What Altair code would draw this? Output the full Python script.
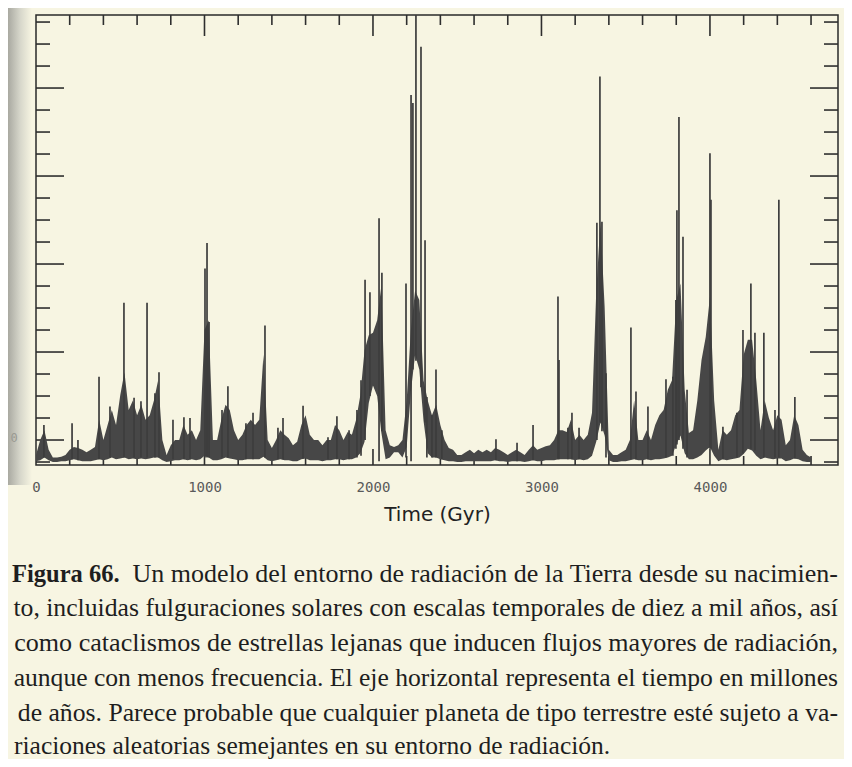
import altair as alt
import pandas as pd

# ---------------- data ----------------
# time grid (Myr) of the dense radiation band
time_myr = list(range(0, 4601, 25))

# upper edge of the dense band (arbitrary radiation units, major tick = 1)
band_high = [
    -0.17, 0.0, 0.11, -0.11, -0.2, -0.2, -0.19, -0.17, -0.11, -0.08,
    -0.09, -0.11, -0.14, -0.11, -0.08, 0.23, 0.0, 0.17, 0.34, 0.17,
    0.51, 0.77, 0.34, 0.45, 0.28, 0.40, 0.23, 0.28, 0.45, 0.68,
    0.0, -0.17, -0.06, 0.0, 0.0, 0.17, 0.06, 0.11, 0.0, 0.11,
    1.25, 1.36, 0.0, 0.0, 0.23, 0.40, 0.34, 0.11, 0.0, 0.06,
    0.17, 0.23, 0.17, 0.23, 0.97, 0.0, -0.09, 0.0, 0.11, 0.06,
    0.02, -0.06, -0.02, 0.17, 0.28, 0.06, 0.0, 0.0, -0.06, 0.0,
    0.0, 0.17, 0.11, 0.0, 0.09, 0.06, 0.23, 0.51, 1.02, 1.19,
    1.22, 1.36, 1.76, 0.11, -0.06, -0.08, -0.06, 0.0, 0.45, 1.25,
    1.70, 1.59, 0.68, 0.45, 0.28, 0.40, 0.17, 0.0, -0.09, -0.11,
    -0.17, -0.17, -0.14, -0.11, -0.15, -0.11, -0.14, -0.11, -0.14, -0.09,
    -0.11, -0.14, -0.17, -0.14, -0.11, -0.14, -0.17, -0.11, -0.06, -0.11,
    -0.09, -0.07, -0.06, 0.0, 0.11, 0.11, 0.09, 0.23, 0.0, 0.06,
    0.0, 0.06, 0.31, 1.68, 2.48, 1.51, -0.11, -0.17, -0.17, -0.14,
    -0.11, 0.0, 0.45, 0.0, 0.0, 0.11, 0.0, 0.17, 0.28, 0.34,
    0.57, 0.68, 1.59, 1.78, 0.57, 0.08, 0.11, 0.45, 0.91, 1.17,
    1.63, 0.45, -0.11, 0.11, 0.06, 0.11, 0.28, 0.34, 0.97, 1.14,
    1.14, 0.68, 0.11, 0.45, 0.25, 0.11, 0.28, 0.23, -0.06, 0.0,
    0.28, 0.17, -0.11, -0.17, -0.2,
]

# lower edge of the dense band
band_low = [
    -0.24, -0.23, -0.2, -0.23, -0.25, -0.25, -0.24, -0.24, -0.23, -0.22,
    -0.23, -0.24, -0.24, -0.24, -0.23, -0.22, -0.23, -0.22, -0.2, -0.22,
    -0.21, -0.2, -0.22, -0.21, -0.22, -0.21, -0.22, -0.21, -0.2, -0.2,
    -0.23, -0.25, -0.24, -0.23, -0.23, -0.22, -0.23, -0.22, -0.23, -0.22,
    -0.18, -0.2, -0.23, -0.23, -0.22, -0.2, -0.21, -0.22, -0.23, -0.23,
    -0.22, -0.22, -0.22, -0.22, -0.19, -0.23, -0.24, -0.23, -0.22, -0.23,
    -0.23, -0.24, -0.24, -0.22, -0.21, -0.23, -0.23, -0.23, -0.24, -0.23,
    -0.23, -0.22, -0.22, -0.23, -0.22, -0.22, -0.2, -0.15, -0.02, 0.42,
    0.62, 0.50, 0.08, -0.22, -0.2, -0.14, -0.14, -0.2, -0.08, 0.55,
    0.97, 0.8, 0.22, -0.15, -0.2, -0.2, -0.22, -0.23, -0.24, -0.24,
    -0.25, -0.25, -0.24, -0.24, -0.24, -0.24, -0.24, -0.24, -0.24, -0.23,
    -0.24, -0.24, -0.25, -0.24, -0.24, -0.24, -0.25, -0.24, -0.23, -0.24,
    -0.24, -0.23, -0.23, -0.23, -0.22, -0.22, -0.22, -0.22, -0.23, -0.22,
    -0.23, -0.22, -0.18, -0.02, 0.2, 0.05, -0.23, -0.25, -0.25, -0.24,
    -0.24, -0.23, -0.22, -0.23, -0.23, -0.22, -0.23, -0.22, -0.22, -0.21,
    -0.2, -0.18, -0.05, 0.05, -0.15, -0.22, -0.22, -0.2, -0.17, -0.12,
    -0.08, -0.18, -0.24, -0.22, -0.23, -0.22, -0.21, -0.2, -0.16, -0.1,
    -0.12, -0.18, -0.22, -0.2, -0.21, -0.22, -0.21, -0.21, -0.24, -0.23,
    -0.21, -0.22, -0.24, -0.25, -0.25,
]

# isolated flare spikes: time, peak and foot
spike_time = [47, 214, 249, 374, 439, 522, 582, 623, 659, 706, 730, 813, 878, 914,
              1003, 1015, 1027, 1104, 1139, 1246, 1288, 1359, 1436, 1466, 1585, 1733,
              1786, 1858, 1905, 1929, 1953, 1982, 2036, 2053, 2196, 2226, 2237, 2255,
              2285, 2309, 2320, 2350, 2374, 2409, 2730, 2855, 2950, 3098, 3104, 3157,
              3181, 3223, 3329, 3347, 3359, 3383, 3531, 3561, 3632, 3739, 3780, 3798,
              3804, 3816, 3840, 3864, 4000, 4006, 4077, 4160, 4196, 4243, 4267, 4320,
              4386, 4409, 4504]
spike_peak = [0.17, 0.19, 0.0, 0.72, 0.38, 1.56, 0.48, 0.44, 1.56, 0.53, 0.77, 0.23, 0.26, 0.25,
              1.95, 2.24, 1.34, 0.34, 0.61, 0.19, 0.31, 1.30, 0.14, 0.25, 0.39, 0.03,
              0.27, 0.11, 0.34, 0.68, 1.82, 1.68, 2.52, 1.90, 1.78, 3.92, 3.83, 4.95,
              4.47, 2.27, 0.49, 0.28, 0.80, 0.11, 0.01, -0.03, 0.17, 1.63, 0.91, 0.14,
              0.31, 0.14, 2.47, 4.13, 2.48, 0.76, 1.28, 0.55, 0.38, 0.69, 0.72, 1.59,
              2.61, 3.67, 2.31, 0.57, 3.26, 2.73, 0.15, 0.31, 1.25, 1.78, 1.22, 1.22,
              0.34, 2.73, 0.49]
spike_base = [-0.2, -0.22, -0.23, -0.22, -0.2, -0.2, -0.2, -0.2, -0.2, -0.2, -0.2, -0.22, -0.22, -0.22,
              -0.2, -0.2, -0.2, -0.2, -0.2, -0.22, -0.22, -0.2, -0.22, -0.22, -0.21, -0.22,
              -0.22, -0.22, -0.2, -0.18, 0.0, 0.5, -0.24, 0.1, -0.2, -0.24, 0.8, 0.9,
              0.6, 0.2, -0.2, -0.2, -0.2, -0.22, -0.23, -0.24, -0.23, -0.22, -0.22, -0.22,
              -0.22, -0.22, 0.0, 0.2, 0.1, -0.2, -0.22, -0.22, -0.22, -0.2, -0.18, -0.1,
              -0.05, 0.0, -0.1, -0.2, -0.1, -0.1, -0.22, -0.2, -0.15, -0.1, -0.12, -0.2,
              -0.2, -0.2, -0.21]

x_label_values = [0, 1000, 2000, 3000, 4000]
x_tick_values = list(range(200, 4601, 200))
y_tick_values = [-0.25, 0.0, 0.25, 0.5, 0.75, 1.0, 1.25, 1.5, 1.75, 2.0, 2.25, 2.5, 2.75,
                 3.0, 3.25, 3.5, 3.75, 4.0, 4.25, 4.5, 4.75]

caption_bold = "Figura 66."
caption_lines = [
    "Un modelo del entorno de radiación de la Tierra desde su nacimien-",
    "to, incluidas fulguraciones solares con escalas temporales de diez a mil años, así",
    "como cataclismos de estrellas lejanas que inducen flujos mayores de radiación,",
    "aunque con menos frecuencia. El eje horizontal representa el tiempo en millones",
    "de años. Parece probable que cualquier planeta de tipo terrestre esté sujeto a va-",
    "riaciones aleatorias semejantes en su entorno de radiación.",
]

# ---------------- layout constants ----------------
W, H = 802, 450
X_MAX = 4760
Y_MIN, Y_MAX = -0.284, 4.83
XPP = X_MAX / W
YPP = (Y_MAX - Y_MIN) / H
BG = "#f7f5e2"
INK = "#3d3d3d"

xs = alt.Scale(domain=[0, X_MAX], nice=False, zero=False)
ys = alt.Scale(domain=[Y_MIN, Y_MAX], nice=False, zero=False)
x_axis = alt.Axis(values=x_label_values, format="d", labelFont="DejaVu Sans Mono",
                  labelFontSize=14, labelColor="#5a5a5a", labelPadding=15, ticks=False,
                  domain=False, grid=False, labelFlush=False, title="Time (Gyr)",
                  titleFont="DejaVu Sans", titleFontSize=20, titleFontWeight="normal",
                  titleColor="#222222", titlePadding=10)

band = pd.DataFrame({"t": time_myr, "hi": band_high, "lo": band_low})
spikes = pd.DataFrame({"t": spike_time, "peak": spike_peak, "base": spike_base})

tick_rows = []
for t in x_tick_values:
    major = t % 1000 == 0
    tick_rows.append({"x": t, "x2": t, "y": Y_MAX, "y2": Y_MAX - (21 if major else 10) * YPP})
    tick_rows.append({"x": t, "x2": t, "y": Y_MIN, "y2": Y_MIN + (16 if major else 9) * YPP})
for v in y_tick_values:
    major = abs(v - round(v)) < 1e-9
    ln = (28 if major else 14) * XPP
    tick_rows.append({"x": 0, "x2": ln, "y": v, "y2": v})
    tick_rows.append({"x": X_MAX, "x2": X_MAX - ln, "y": v, "y2": v})
ticks = pd.DataFrame(tick_rows)

one = pd.DataFrame({"k": [0]})

shade = alt.Chart(one).mark_rect(
    color=alt.Gradient(gradient="linear",
                       stops=[alt.GradientStop(color="#a9a9a1", offset=0),
                              alt.GradientStop(color="#d6d6ca", offset=0.5),
                              alt.GradientStop(color=BG, offset=1)],
                       x1=0, x2=1, y1=0, y2=0)
).encode(x=alt.value(-28), x2=alt.value(-4), y=alt.value(-7), y2=alt.value(470))

tick_layer = alt.Chart(ticks).mark_rule(color="#2e2e2e", strokeWidth=1.6, clip=True).encode(
    x=alt.X("x:Q", scale=xs, axis=x_axis), x2="x2:Q",
    y=alt.Y("y:Q", scale=ys, axis=None), y2="y2:Q")

band_layer = alt.Chart(band).mark_area(color="#474747", clip=True).encode(
    x=alt.X("t:Q", scale=xs, axis=x_axis),
    y=alt.Y("hi:Q", scale=ys, axis=None), y2="lo:Q")

spike_layer = alt.Chart(spikes).mark_rule(color=INK, strokeWidth=1.7, clip=True).encode(
    x=alt.X("t:Q", scale=xs, axis=x_axis),
    y=alt.Y("peak:Q", scale=ys, axis=None), y2="base:Q")

y0_label = alt.Chart(pd.DataFrame({"txt": ["0"]})).mark_text(
    font="DejaVu Sans Mono", fontSize=12, color="#9a9a92", align="center", baseline="middle"
).encode(x=alt.value(-22), y=alt.value(423), text="txt:N")

cap_font = "Liberation Serif"
cap_layers = []
cap_layers.append(alt.Chart(pd.DataFrame({"txt": [caption_bold]})).mark_text(
    font=cap_font, fontSize=24.5, fontWeight="bold", color="#1e1e1e", align="left",
    baseline="alphabetic").encode(x=alt.value(-24), y=alt.value(567), text="txt:N"))
line_size = [26.0, 25.7, 26.1, 25.6, 25.7, 25.5]
line_align = ["right", "right", "right", "right", "right", "left"]
line_x = [802, 802, 802, 802, 802, -22]
line_base = [567, 601, 636, 671, 706, 739]
for txt, sz, al, xr, yb in zip(caption_lines, line_size, line_align, line_x, line_base):
    cap_layers.append(alt.Chart(pd.DataFrame({"txt": [txt]})).mark_text(
        font=cap_font, fontSize=sz, color="#1e1e1e", align=al,
        baseline="alphabetic").encode(x=alt.value(xr), y=alt.value(yb), text="txt:N"))

chart = alt.layer(shade, tick_layer, band_layer, spike_layer, y0_label, *cap_layers).properties(
    width=W, height=H,
    padding={"left": 28, "top": 7, "right": 6, "bottom": 294},
    autosize=alt.AutoSizeParams(type="none"),
    background=BG,
).configure_view(stroke="#2a2a2a", strokeWidth=1.5)

chart.save("out.html", embed_options={"renderer": "svg", "actions": False})
